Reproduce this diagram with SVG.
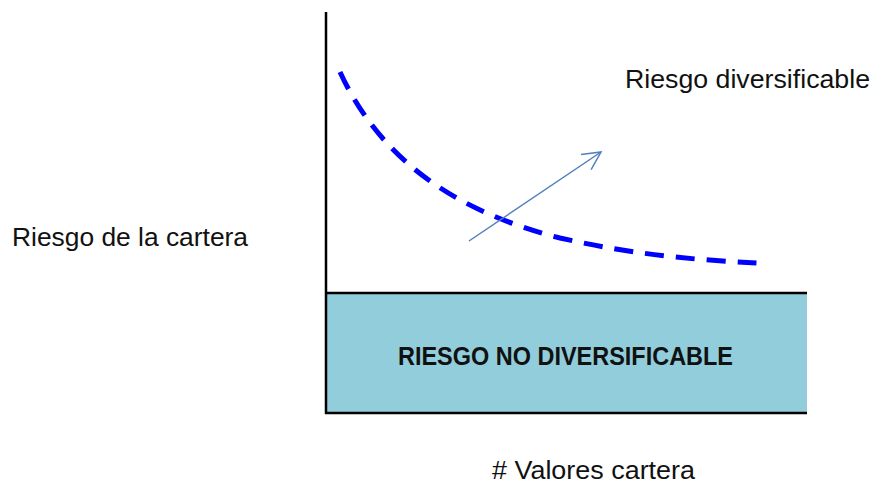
<svg xmlns="http://www.w3.org/2000/svg" width="874" height="487" viewBox="0 0 874 487">
  <style>
    .lbl { font-family: "Liberation Sans", Arial, sans-serif; font-size: 26px; fill: #111; }
    .bold { font-weight: bold; font-size: 26px; }
    .axis { stroke: #000; stroke-width: 2.5; fill: none; }
  </style>
  <defs>
    <marker id="open" markerUnits="userSpaceOnUse" markerWidth="24" markerHeight="22" refX="20" refY="10" orient="auto">
      <path d="M2,1 L20,10 L2,19" fill="none" stroke="#4F81BD" stroke-width="1.5"/>
    </marker>
  </defs>
  <rect width="874" height="487" fill="#fff"/>

  <g id="nodiv-box">
    <rect x="326" y="293" width="481" height="120" fill="#92CDDC"/>
    <line x1="326" y1="293" x2="807" y2="293" class="axis"/>
    <text class="lbl bold" x="398" y="365" textLength="335" lengthAdjust="spacingAndGlyphs">RIESGO NO DIVERSIFICABLE</text>
  </g>

  <g id="axes">
    <line x1="326" y1="12" x2="326" y2="414" class="axis"/>
    <line x1="325" y1="413" x2="807" y2="413" class="axis"/>
  </g>

  <g id="curve">
    <path d="M340,72 C385,170 470,215 560,238 C640,256 700,260 757,263" fill="none" stroke="#0000FF" stroke-width="5" stroke-dasharray="19 12"/>
  </g>

  <g id="connectors">
    <line x1="469" y1="241" x2="601" y2="152" stroke="#4F81BD" stroke-width="1.5" marker-end="url(#open)"/>
  </g>

  <g id="label-div">
    <text class="lbl" x="625" y="88" textLength="245" lengthAdjust="spacingAndGlyphs">Riesgo diversificable</text>
  </g>
  <g id="label-y">
    <text class="lbl" x="12" y="246" textLength="236" lengthAdjust="spacingAndGlyphs">Riesgo de la cartera</text>
  </g>
  <g id="label-x">
    <text class="lbl" x="492" y="479" textLength="203" lengthAdjust="spacingAndGlyphs"># Valores cartera</text>
  </g>
</svg>
